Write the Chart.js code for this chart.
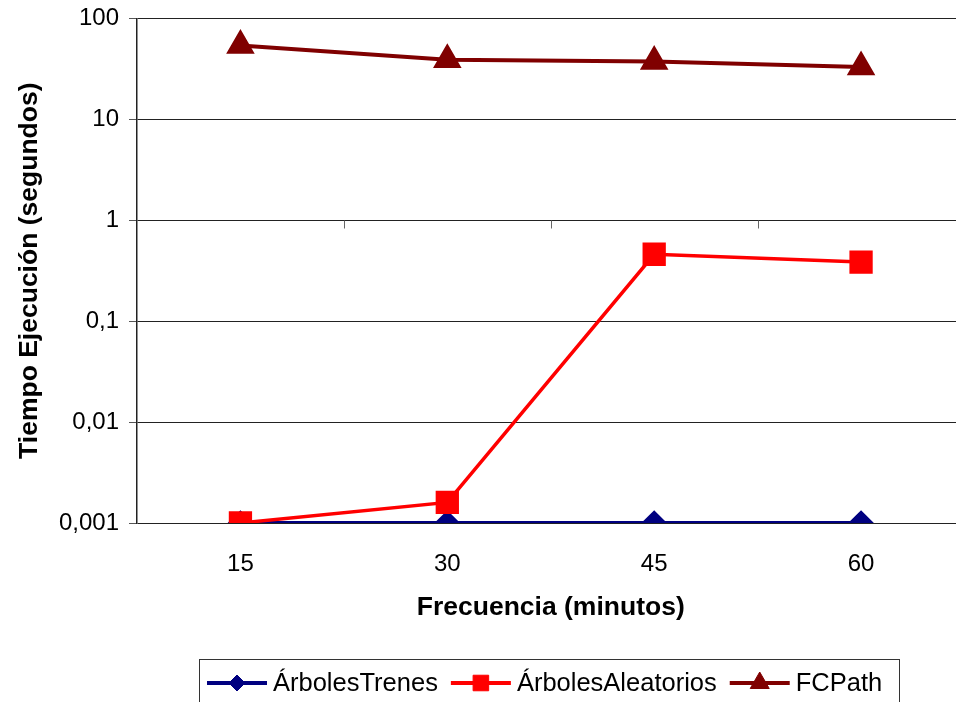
<!DOCTYPE html>
<html>
<head>
<meta charset="utf-8">
<script src="https://cdn.jsdelivr.net/npm/chart.js@4.4.1/dist/chart.umd.min.js"></script>
<style>
  html, body { margin: 0; padding: 0; background: #fff; overflow: hidden; }
  #wrap { width: 982px; height: 708px; margin-top: -6px; }
</style>
</head>
<body>
<div id="wrap"><canvas id="chart" width="982" height="708"></canvas></div>
<script>
// Frequency of train departures (minutes)
const categories = ['15', '30', '45', '60'];

// Execution time per method (seconds)
const arbolesTrenes = [0.001, 0.001, 0.001, 0.001];
const arbolesAleatorios = [0.001, 0.0016, 0.46, 0.385];
const fcPath = [54, 39, 37.5, 33];

// Decade ticks of the logarithmic axis and their labels (decimal comma)
const yTickValues = [0.001, 0.01, 0.1, 1, 10, 100];
const yTickLabels = ['0,001', '0,01', '0,1', '1', '10', '100'];

const FONT = "'Liberation Sans', Arial, sans-serif";
const TOP_SHIFT = 6; // canvas starts this far above the page

// Horizontal axis crosses the log axis at 1, with marks between categories
const crossingAxis = {
  id: 'crossingAxis',
  beforeDatasetsDraw(chart) {
    const { ctx, scales: { x, y } } = chart;
    const yy = Math.round(y.getPixelForValue(1)) + 0.5;
    ctx.save();
    ctx.strokeStyle = '#666';
    ctx.lineWidth = 1;
    for (let i = 1; i < categories.length; i++) {
      const bx = Math.round((x.getPixelForValue(i - 1) + x.getPixelForValue(i)) / 2) + 0.5;
      ctx.beginPath();
      ctx.moveTo(bx, yy);
      ctx.lineTo(bx, yy + 8);
      ctx.stroke();
    }
    ctx.restore();
  }
};

// Boxed legend: a line through each marker, followed by the series name
const legendMarkerRadius = { rectRot: 8, rect: 11, triangle: 11 };
const boxedLegend = {
  id: 'boxedLegend',
  afterDraw(chart) {
    const { ctx } = chart;
    const boxL = 199, boxT = 659 + TOP_SHIFT, boxR = 899, boxB = 730;
    const cy = 683 + TOP_SHIFT;
    ctx.save();
    ctx.strokeStyle = '#333';
    ctx.lineWidth = 1;
    ctx.strokeRect(boxL + 0.5, boxT + 0.5, boxR - boxL, boxB - boxT);
    ctx.font = '25.5px ' + FONT;
    ctx.textBaseline = 'middle';
    let x = boxL + 8;
    chart.data.datasets.forEach(ds => {
      const lineLen = 60;
      ctx.strokeStyle = ds.borderColor;
      ctx.lineWidth = 4;
      ctx.beginPath();
      ctx.moveTo(x, cy);
      ctx.lineTo(x + lineLen, cy);
      ctx.stroke();
      ctx.fillStyle = ds.pointBackgroundColor;
      ctx.strokeStyle = ds.pointBackgroundColor;
      ctx.lineWidth = 1;
      Chart.helpers.drawPoint(ctx, { pointStyle: ds.pointStyle, radius: legendMarkerRadius[ds.pointStyle], rotation: 0, borderWidth: 1 }, x + lineLen / 2, cy);
      ctx.fillStyle = '#000';
      ctx.fillText(ds.label, x + lineLen + 6, cy + 1);
      x += lineLen + 6 + ctx.measureText(ds.label).width + 13;
    });
    ctx.restore();
  }
};

new Chart(document.getElementById('chart'), {
  type: 'line',
  data: {
    labels: categories,
    datasets: [
      {
        label: 'ÁrbolesTrenes',
        data: arbolesTrenes,
        borderColor: '#000080',
        backgroundColor: '#000080',
        pointBackgroundColor: '#000080',
        pointBorderColor: '#000080',
        borderWidth: 4,
        pointStyle: 'rectRot',
        pointRadius: 10,
        order: 2
      },
      {
        label: 'ÁrbolesAleatorios',
        data: arbolesAleatorios,
        borderColor: '#FF0000',
        backgroundColor: '#FF0000',
        pointBackgroundColor: '#FF0000',
        pointBorderColor: '#FF0000',
        borderWidth: 3.5,
        pointStyle: 'rect',
        pointRadius: 14,
        order: 1
      },
      {
        label: 'FCPath',
        data: fcPath,
        borderColor: '#800000',
        backgroundColor: '#800000',
        pointBackgroundColor: '#800000',
        pointBorderColor: '#800000',
        borderWidth: 4,
        pointStyle: 'triangle',
        pointRadius: 12.5,
        order: 0
      }
    ]
  },
  options: {
    responsive: false,
    animation: false,
    devicePixelRatio: 1,
    layout: { padding: { top: 12, right: 0, bottom: 0, left: 0 } },
    plugins: { legend: { display: false }, tooltip: { enabled: false } },
    scales: {
      x: {
        type: 'category',
        offset: true,
        grid: { display: false },
        border: { display: false },
        ticks: { color: '#000', font: { family: FONT, size: 24 }, padding: 19 },
        title: {
          display: true,
          text: 'Frecuencia (minutos)',
          color: '#000',
          font: { family: FONT, size: 26.5, weight: 'bold' },
          padding: { top: 0, bottom: 78 }
        },
        afterFit(scale) { scale.height = 179; }
      },
      y: {
        type: 'logarithmic',
        min: 0.001,
        max: 100,
        afterBuildTicks(scale) { scale.ticks = yTickValues.map(v => ({ value: v })); },
        ticks: {
          color: '#000',
          font: { family: FONT, size: 24 },
          padding: 10,
          callback(value) {
            const i = yTickValues.findIndex(v => Math.abs(v - value) / v < 1e-6);
            return i >= 0 ? yTickLabels[i] : '';
          }
        },
        grid: { color: '#222', lineWidth: 1, tickLength: 8, tickColor: '#555' },
        border: { display: true, color: '#222', width: 1.5 },
        title: {
          display: true,
          text: 'Tiempo Ejecución (segundos)',
          color: '#000',
          font: { family: FONT, size: 26.5, weight: 'bold' },
          padding: { top: 14, bottom: 0 }
        },
        afterFit(scale) { scale.width = 137; }
      }
    }
  },
  plugins: [crossingAxis, boxedLegend]
});
</script>
</body>
</html>
